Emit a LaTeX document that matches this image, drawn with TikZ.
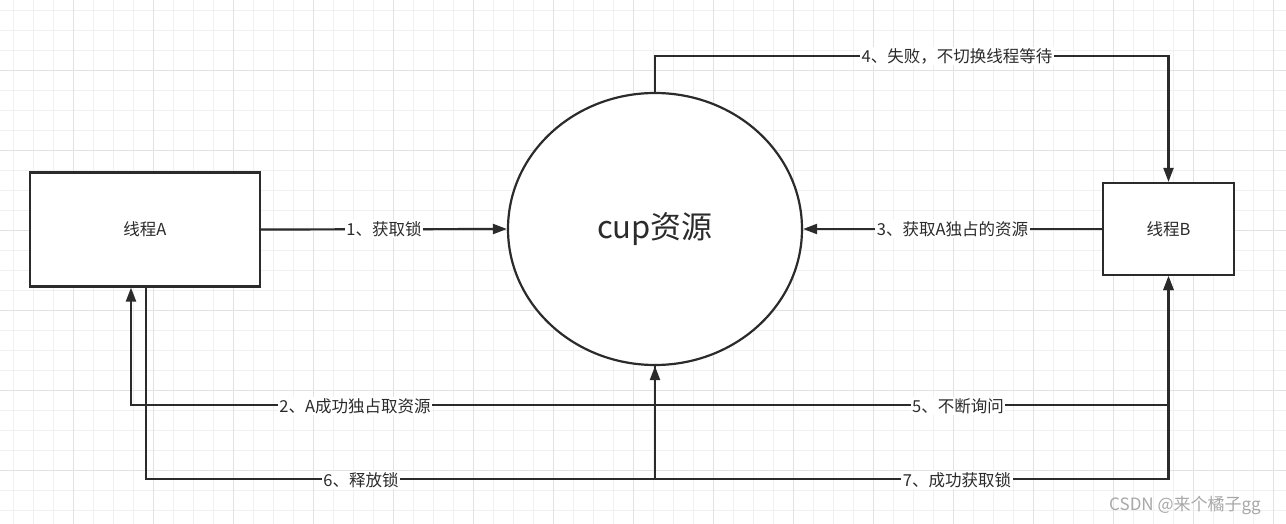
\documentclass[tikz,border=0pt]{standalone}
\usepackage{fontspec}
\setmainfont{Noto Sans CJK SC}
\usetikzlibrary{arrows.meta}
\definecolor{ink}{HTML}{2B2B2B}
\definecolor{gridminor}{HTML}{F0F0F0}
\definecolor{gridmajor}{HTML}{E2E2E2}
\definecolor{wm}{HTML}{A8A8A8}
\tikzset{
  box/.style={draw=ink, line width=2.2pt, fill=white, text=ink, font=\fontsize{16.5}{18}\selectfont},
  res/.style={draw=ink, line width=2.2pt, ellipse, fill=white, text=ink, font=\fontsize{31}{34}\selectfont},
  conn/.style={draw=ink, line width=2.2pt},
  arr/.style={conn, -{Triangle[length=14pt,width=10pt]}},
  lbl/.style={fill=white, text=ink, inner sep=1.5pt, font=\fontsize{16.5}{18}\selectfont},
}
\usetikzlibrary{shapes.geometric}
\begin{document}
\begin{tikzpicture}[x=1pt,y=-1pt]
\useasboundingbox (0,0) rectangle (1286,524);
\fill[white] (0,0) rectangle (1286,524);
% grid
\foreach \x in {13,33,...,1286} \draw[gridminor, line width=0.8pt] (\x,0) -- (\x,524);
\foreach \y in {10,30,...,524} \draw[gridminor, line width=0.8pt] (0,\y) -- (1286,\y);
\foreach \x in {73,153,...,1286} \draw[gridmajor, line width=0.8pt] (\x,0) -- (\x,524);
\foreach \y in {70,150,...,524} \draw[gridmajor, line width=0.8pt] (0,\y) -- (1286,\y);

% nodes
\node[box, minimum width=230pt, minimum height=114pt] (A) at (145,229.5) {线程A};
\node[box, minimum width=131pt, minimum height=92pt] (B) at (1168.5,229) {线程B};
\node[res, minimum width=294pt, minimum height=272pt, inner sep=0pt] (C) at (655,229) {cup资源};

\coordinate (j2) at (655,405);
\coordinate (j6) at (655,479);
\coordinate (t4) at (655,56);

% connectors
\draw[arr] (A.east) -- node[lbl]{1、获取锁} (C.west);
\draw[arr] (B.west) -- node[lbl]{3、获取A独占的资源} (C.east);
\draw[arr] (C.north) -- (t4) -| (B.north);
\node[lbl] (l4) at (957,56) {4、失败，不切换线程等待};
\draw[arr] (C.south) -- (j2) -| ([xshift=-14pt]A.south);
\draw[arr] (C.south) -- (j2) -| (B.south);
\draw[arr] ([xshift=1pt]A.south) |- (j6) -- (C.south);
\draw[arr] (C.south) -- (j6) -| (B.south);
\node[lbl] (l2) at (355,406) {2、A成功独占取资源};
\node[lbl] (l5) at (958,406) {5、不断询问};
\node[lbl] (l6) at (361,480) {6、释放锁};
\node[lbl] (l7) at (957,480) {7、成功获取锁};

% watermark
\node[text=wm, font=\fontsize{17}{19}\selectfont, inner sep=0pt] (wm) at (1185,505) {CSDN @来个橘子gg};
\end{tikzpicture}
\end{document}
